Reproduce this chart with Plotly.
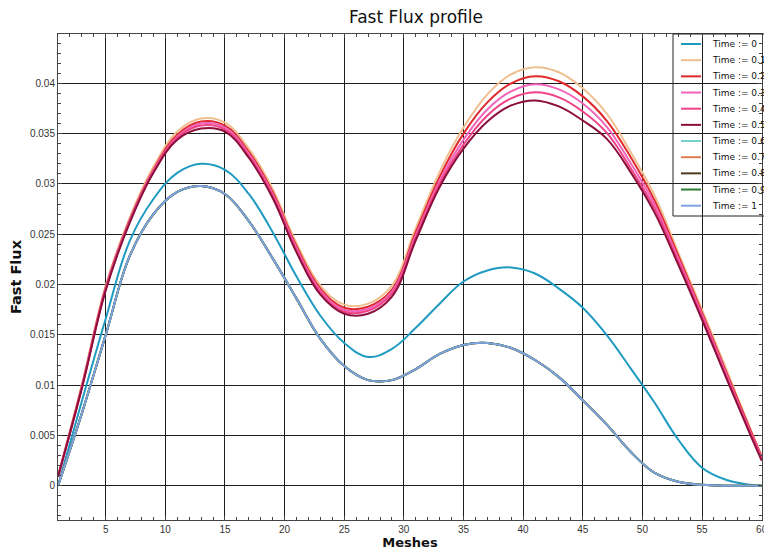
import plotly.graph_objects as go

# Mesh positions where the flux is sampled
meshes = [1, 3, 5, 7, 9, 11, 13, 15, 17, 19, 21, 23, 25, 27, 29, 31,
          33, 35, 37, 39, 41, 43, 45, 47, 49, 51, 53, 55, 57, 59, 60]

# Fast flux per time step
flux_t00 = [0.0, 0.0084, 0.0166, 0.0243, 0.0285, 0.0311, 0.0320, 0.0314, 0.0290, 0.0252, 0.0208,
            0.0169, 0.0142, 0.0128, 0.0136, 0.0157, 0.0181, 0.0203, 0.0214, 0.0217, 0.0211, 0.0196,
            0.0177, 0.0150, 0.0117, 0.0083, 0.0046, 0.0018, 0.0006, 0.0001, 0.0]
flux_t01 = [0.0010, 0.0101, 0.0199, 0.0266, 0.0317, 0.0352, 0.0365, 0.0361, 0.0335, 0.0295, 0.0241,
            0.0199, 0.0180, 0.0181, 0.0199, 0.0256, 0.0312, 0.0356, 0.0389, 0.0409, 0.0416, 0.0411,
            0.0395, 0.0370, 0.0332, 0.0289, 0.0232, 0.0175, 0.0117, 0.0058, 0.0030]
flux_t02 = [0.0009, 0.0099, 0.0197, 0.0264, 0.0314, 0.0349, 0.0362, 0.0358, 0.0332, 0.0292, 0.0238,
            0.0196, 0.0177, 0.0178, 0.0195, 0.0252, 0.0307, 0.0350, 0.0381, 0.0400, 0.0407, 0.0402,
            0.0387, 0.0363, 0.0327, 0.0284, 0.0229, 0.0172, 0.0114, 0.0057, 0.0029]
flux_t03 = [0.0009, 0.0098, 0.0196, 0.0263, 0.0313, 0.0347, 0.0360, 0.0356, 0.0330, 0.0290, 0.0236,
            0.0194, 0.0175, 0.0176, 0.0193, 0.0249, 0.0303, 0.0344, 0.0374, 0.0392, 0.0399, 0.0394,
            0.0380, 0.0357, 0.0321, 0.0280, 0.0226, 0.0170, 0.0112, 0.0055, 0.0028]
flux_t04 = [0.0009, 0.0097, 0.0195, 0.0262, 0.0312, 0.0346, 0.0358, 0.0354, 0.0328, 0.0288, 0.0234,
            0.0192, 0.0173, 0.0174, 0.0191, 0.0247, 0.0300, 0.0339, 0.0368, 0.0385, 0.0391, 0.0386,
            0.0372, 0.0351, 0.0316, 0.0276, 0.0223, 0.0168, 0.0110, 0.0054, 0.0027]
flux_t05 = [0.0009, 0.0097, 0.0194, 0.0261, 0.0311, 0.0344, 0.0355, 0.0352, 0.0326, 0.0286, 0.0232,
            0.0190, 0.0171, 0.0171, 0.0188, 0.0244, 0.0297, 0.0335, 0.0362, 0.0378, 0.0383, 0.0377,
            0.0363, 0.0345, 0.0312, 0.0272, 0.0220, 0.0165, 0.0108, 0.0052, 0.0025]
# Times 0.6 .. 1 settle onto the same profile
flux_late = [0.0, 0.0072, 0.0150, 0.0228, 0.0270, 0.0292, 0.0298, 0.0290, 0.0263, 0.0226, 0.0186,
             0.0146, 0.0119, 0.0105, 0.0105, 0.0116, 0.0131, 0.0140, 0.0142, 0.0137, 0.0125, 0.0108,
             0.0085, 0.0061, 0.0034, 0.0013, 0.0004, 0.0001, 0.0, 0.0, 0.0]

time_labels = ["Time := 0", "Time := 0.1", "Time := 0.2", "Time := 0.3", "Time := 0.4",
               "Time := 0.5", "Time := 0.6", "Time := 0.7", "Time := 0.8", "Time := 0.9",
               "Time := 1"]
series = [flux_t00, flux_t01, flux_t02, flux_t03, flux_t04, flux_t05,
          flux_late, flux_late, flux_late, flux_late, flux_late]
colors = ["#1f9bc1", "#efbf90", "#e0292d", "#f064bb", "#f04287", "#8c0f3b",
          "#74d2ca", "#e07d4f", "#4b3a1e", "#2e7d32", "#7fa3e0"]

fig = go.Figure()
for label, vals, col in zip(time_labels, series, colors):
    fig.add_trace(go.Scatter(x=meshes, y=vals, mode="lines", name=label,
                             line=dict(color=col, width=2, shape="spline", smoothing=1.1),
                             showlegend=False))

# Hand-built legend box (transparent, lets the grid show through)
leg_x0, leg_x1 = 0.8736, 1.25
leg_top, leg_bottom = 1.0, 0.6255
row0, row_step = 0.9794, 0.03327
shapes = [dict(type="rect", xref="paper", yref="paper", x0=leg_x0, x1=leg_x1,
               y0=leg_bottom, y1=leg_top, line=dict(color="#222", width=1),
               fillcolor="rgba(0,0,0,0)", layer="above")]
annotations = []
for i, (label, col) in enumerate(zip(time_labels, colors)):
    yy = row0 - i * row_step
    shapes.append(dict(type="line", xref="paper", yref="paper", x0=0.8849, x1=0.9134,
                       y0=yy, y1=yy, line=dict(color=col, width=2), layer="above"))
    annotations.append(dict(xref="paper", yref="paper", x=0.9262, y=yy, text=label,
                            showarrow=False, xanchor="left", yanchor="middle",
                            font=dict(family="DejaVu Sans", size=9, color="#111")))

axis_common = dict(
    showgrid=True, gridcolor="#1e1e1e", gridwidth=1,
    showline=True, linecolor="#444", linewidth=1, mirror="ticks",
    ticks="inside", ticklen=4, tickcolor="#444",
    zeroline=False,
    tickfont=dict(family="Liberation Sans, Arial", size=10, color="#333"),
)

fig.update_layout(
    width=764, height=550,
    margin=dict(l=58, r=2, t=34, b=30, autoexpand=False),
    paper_bgcolor="white", plot_bgcolor="white",
    font=dict(family="Liberation Sans, Arial", size=10, color="#333"),
    title=dict(text="Fast Flux profile", x=0.5445, xanchor="center", y=0.969,
               yanchor="middle", font=dict(family="DejaVu Sans", size=17, color="#111")),
    xaxis=dict(range=[1, 60.03], tick0=0, dtick=5, ticklabeloverflow="allow",
               minor=dict(dtick=1, ticks="inside", ticklen=3, tickcolor="#444", showgrid=False),
               title=dict(text="<b>Meshes</b>", standoff=0,
                          font=dict(family="DejaVu Sans", size=13, color="#111")),
               **axis_common),
    yaxis=dict(range=[-0.0034, 0.0449], tick0=0, dtick=0.005,
               minor=dict(dtick=0.001, ticks="inside", ticklen=3, tickcolor="#444", showgrid=False),
               title=dict(text="<b>Fast Flux</b>", standoff=4,
                          font=dict(family="DejaVu Sans", size=14.5, color="#111")),
               **axis_common),
    shapes=shapes,
    annotations=annotations,
)

fig.write_html("out.html")
